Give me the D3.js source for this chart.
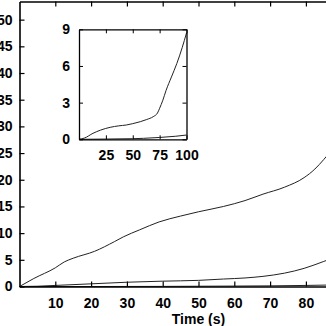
<!DOCTYPE html>
<html>
<head>
<meta charset="utf-8">
<script src="https://cdn.jsdelivr.net/npm/d3@7"></script>
<style>
  body { margin: 0; background: #fff; }
  svg { display: block; }
  text { font-family: "Liberation Sans", Arial, sans-serif; font-weight: bold; font-size: 14px; fill: #000; }
</style>
</head>
<body>
<svg id="chart" width="326" height="326"></svg>
<script>
// main plot data (time in s)
const upperT = [0, 4, 10, 12.5, 15, 21, 26.5, 29, 33.5, 39, 45, 50, 57, 63, 68, 74, 79.5, 82.5, 85, 87];
const upperV = [0, 1.5, 3.5, 4.6, 5.3, 6.6, 8.4, 9.3, 10.6, 12.1, 13.2, 14.0, 15.0, 16.1, 17.3, 18.6, 20.4, 22.0, 23.8, 25.4];
const middleT = [0, 5, 10, 20, 30, 40, 50, 57, 63, 68, 74, 79.5, 85, 87];
const middleV = [0, 0.05, 0.2, 0.5, 0.8, 1.0, 1.15, 1.4, 1.6, 1.9, 2.5, 3.4, 4.7, 5.2];
const lowerT = [0, 20, 40, 60, 70, 80, 87];
const lowerV = [0, 0, 0.02, 0.08, 0.12, 0.2, 0.28];

const xTicks = [10, 20, 30, 40, 50, 60, 70, 80];
const yTicks = [0, 5, 10, 15, 20, 25, 30, 35, 40, 45, 50];
const xLabel = "Time (s)";

// inset data
const insetUpperT = [0, 5, 13, 20, 29, 37, 44, 50, 57, 63, 69, 73, 75, 78, 81, 86, 91, 96, 100];
const insetUpperV = [0, 0.1, 0.49, 0.75, 0.98, 1.1, 1.17, 1.28, 1.44, 1.62, 1.85, 2.15, 2.54, 3.2, 4.0, 5.1, 6.2, 7.5, 8.7];
const insetLowerT = [0, 25, 50, 60, 75, 90, 100];
const insetLowerV = [0, 0.02, 0.05, 0.08, 0.15, 0.25, 0.35];
const insetXTicks = [25, 50, 75, 100];
const insetYTicks = [0, 3, 6, 9];

const MAIN = { left: 19.5, right: 377.5, top: 1.5, bottom: 286.5 };
const INSET = { left: 79, right: 186.5, top: 29.3, bottom: 139.3 };

const svg = d3.select("#chart");

function pairs(ts, vs) {
  return ts.map((t, i) => [t, vs[i]]);
}

// main plot
let x = d3.scaleLinear().domain([0, 100]).range([MAIN.left, MAIN.right]);
let y = d3.scaleLinear().domain([0, 53.4]).range([MAIN.bottom, MAIN.top]);

let line = d3.line()
  .x(d => x(d[0]))
  .y(d => y(d[1]))
  .curve(d3.curveMonotoneX);

[pairs(upperT, upperV), pairs(middleT, middleV), pairs(lowerT, lowerV)].forEach(s => {
  svg.append("path")
    .datum(s)
    .attr("d", line)
    .attr("fill", "none")
    .attr("stroke", "#222")
    .attr("stroke-width", 1);
});

svg.append("g")
  .attr("transform", `translate(0,${MAIN.bottom})`)
  .call(d3.axisBottom(x).tickValues(xTicks).tickSizeInner(-5).tickSizeOuter(0).tickPadding(11.5))
  .call(g => g.selectAll("text").attr("font-size", null).attr("font-family", null));

svg.append("g")
  .attr("transform", `translate(0,${MAIN.top})`)
  .call(d3.axisTop(x).tickValues(xTicks).tickSizeInner(-5).tickSizeOuter(0).tickFormat(""));

svg.append("g")
  .attr("transform", `translate(${MAIN.left},0)`)
  .call(d3.axisLeft(y).tickValues(yTicks).tickSizeInner(-5).tickSizeOuter(0).tickPadding(7))
  .call(g => g.selectAll("text").attr("font-size", null).attr("font-family", null));

svg.selectAll(".domain").attr("stroke-width", 1.6);
svg.selectAll(".tick line").attr("stroke-width", 1.2);

svg.append("text")
  .attr("x", (MAIN.left + MAIN.right) / 2)
  .attr("y", 324)
  .attr("text-anchor", "middle")
  .text(xLabel);

// inset
let ix = d3.scaleLinear().domain([0, 100]).range([INSET.left, INSET.right]);
let iy = d3.scaleLinear().domain([0, 9]).range([INSET.bottom, INSET.top]);

let iline = d3.line()
  .x(d => ix(d[0]))
  .y(d => iy(d[1]))
  .curve(d3.curveMonotoneX);

let inset = svg.append("g");

inset.append("rect")
  .attr("x", INSET.left)
  .attr("y", INSET.top)
  .attr("width", INSET.right - INSET.left)
  .attr("height", INSET.bottom - INSET.top)
  .attr("fill", "#fff")
  .attr("stroke", "none");

[pairs(insetUpperT, insetUpperV), pairs(insetLowerT, insetLowerV)].forEach(s => {
  inset.append("path")
    .datum(s)
    .attr("d", iline)
    .attr("fill", "none")
    .attr("stroke", "#222")
    .attr("stroke-width", 1);
});

inset.append("g")
  .attr("transform", `translate(0,${INSET.bottom})`)
  .call(d3.axisBottom(ix).tickValues(insetXTicks).tickSizeInner(-4).tickSizeOuter(0).tickPadding(10.5));
inset.append("g")
  .attr("transform", `translate(0,${INSET.top})`)
  .call(d3.axisTop(ix).tickValues(insetXTicks).tickSizeInner(-4).tickSizeOuter(0).tickFormat(""));
inset.append("g")
  .attr("transform", `translate(${INSET.left},0)`)
  .call(d3.axisLeft(iy).tickValues(insetYTicks).tickSizeInner(-4).tickSizeOuter(0).tickPadding(9));
inset.append("g")
  .attr("transform", `translate(${INSET.right},0)`)
  .call(d3.axisRight(iy).tickValues(insetYTicks).tickSizeInner(-4).tickSizeOuter(0).tickFormat(""));

inset.selectAll("text").attr("font-size", null).attr("font-family", null);
inset.selectAll(".domain").attr("stroke-width", 1.3);
inset.selectAll(".tick line").attr("stroke-width", 1);
</script>
</body>
</html>
